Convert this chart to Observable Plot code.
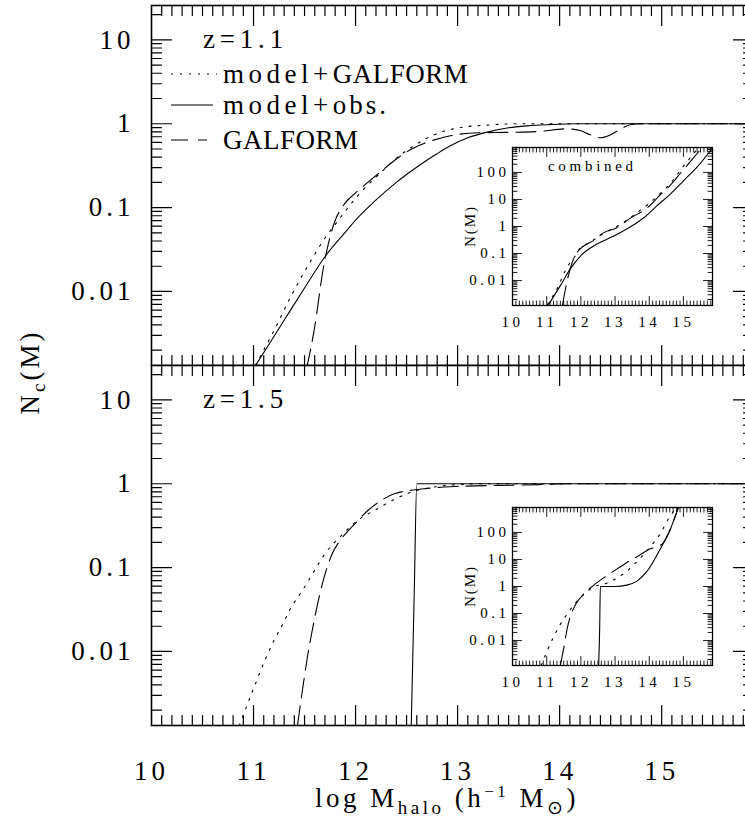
<!DOCTYPE html>
<html>
<head>
<meta charset="utf-8">
<script src="https://cdn.jsdelivr.net/npm/d3@7"></script>
<script src="https://cdn.jsdelivr.net/npm/@observablehq/plot@0.6"></script>
<style>
html,body{margin:0;padding:0;background:#fff;}
#chart{position:relative;width:745px;height:829px;background:#fff;overflow:hidden;}
</style>
</head>
<body>
<div id="chart"></div>
<script>
// ---------------- tick values ----------------
const xMajor = [10, 11, 12, 13, 14, 15];
const yMajorMain = [0.01, 0.1, 1, 10];
const yMajorInset = [0.01, 0.1, 1, 10, 100];

// ---------------- z = 1.1 : N_c(M) ----------------
const z11_m_modelGalform = [11.02, 11.2, 11.37, 11.55, 11.71, 11.8, 11.9, 12.02, 12.12, 12.25, 12.39, 12.55, 12.77, 13.0, 13.3, 13.6, 15.95];
const z11_n_modelGalform = [0.00132, 0.0034, 0.0089, 0.022, 0.045, 0.063, 0.091, 0.138, 0.186, 0.263, 0.38, 0.525, 0.74, 0.89, 0.966, 1, 1];
const z11_m_modelObs = [11.0, 11.2, 11.37, 11.5, 11.71, 11.9, 12.0, 12.19, 12.4, 12.55, 12.68, 12.8, 12.92, 13.1, 13.3, 13.5, 13.68, 13.9, 14.17, 15.95];
const z11_n_modelObs = [0.0012, 0.0029, 0.0062, 0.011, 0.027, 0.051, 0.071, 0.12, 0.2, 0.275, 0.355, 0.44, 0.54, 0.68, 0.8, 0.895, 0.944, 0.977, 1, 1];
const z11_m_galform = [11.52, 11.6, 11.68, 11.79, 11.89, 12.0, 12.12, 12.25, 12.4, 12.55, 12.75, 12.93, 13.2, 13.5, 13.8, 14.06, 14.2, 14.3, 14.4, 14.5, 14.6, 14.7, 14.8, 15.95];
const z11_n_galform = [0.0012, 0.0038, 0.0178, 0.065, 0.11, 0.15, 0.2, 0.27, 0.38, 0.5, 0.63, 0.72, 0.78, 0.79, 0.81, 0.87, 0.83, 0.74, 0.68, 0.74, 0.87, 0.98, 1, 1];

// ---------------- z = 1.1 : combined N(M) (inset) ----------------
const z11c_m_modelGalform = [11.02, 11.3, 11.6, 11.8, 11.98, 12.2, 12.37, 12.66, 13.05, 13.34, 13.64, 14.02, 14.31, 14.66, 14.95, 15.45];
const z11c_n_modelGalform = [0.0013, 0.0049, 0.032, 0.07, 0.16, 0.24, 0.32, 0.55, 1.0, 1.7, 3.2, 7.5, 16, 45, 140, 832];
const z11c_m_modelObs = [11.04, 11.4, 11.69, 11.98, 12.2, 12.37, 12.67, 13.05, 13.44, 13.84, 14.22, 14.61, 15.0, 15.43, 15.85];
const z11c_n_modelObs = [0.0012, 0.0065, 0.027, 0.079, 0.138, 0.19, 0.3, 0.51, 0.95, 2.1, 5.75, 15.5, 49, 174, 800];
const z11c_m_galform = [11.46, 11.55, 11.68, 11.8, 11.98, 12.2, 12.37, 12.66, 13.05, 13.44, 14.0, 14.3, 14.6, 14.9, 15.2, 15.55];
const z11c_n_galform = [0.0012, 0.005, 0.025, 0.07, 0.15, 0.23, 0.3, 0.58, 0.9, 2.0, 5.6, 14, 32, 89, 250, 832];

// ---------------- z = 1.5 : N_c(M) ----------------
const z15_m_modelGalform = [10.86, 11.0, 11.12, 11.2, 11.28, 11.36, 11.49, 11.59, 11.69, 11.77, 11.86, 12.0, 12.21, 12.38, 12.54, 12.74, 13.03, 13.3, 15.95];
const z15_n_modelGalform = [0.0013, 0.0036, 0.0083, 0.0135, 0.0204, 0.032, 0.056, 0.089, 0.14, 0.186, 0.24, 0.35, 0.5, 0.65, 0.79, 0.9, 0.98, 1, 1];
const z15_m_modelObs = [12.545, 12.575, 12.6, 15.95];
const z15_n_modelObs = [0.0012, 0.05, 1, 1];
const z15_m_galform = [11.43, 11.48, 11.53, 11.58, 11.63, 11.68, 11.72, 11.77, 11.86, 11.91, 12.02, 12.12, 12.25, 12.38, 12.67, 12.84, 13.0, 13.4, 13.8, 14.1, 15.95];
const z15_n_galform = [0.0013, 0.0035, 0.0089, 0.019, 0.038, 0.068, 0.1, 0.145, 0.22, 0.26, 0.36, 0.48, 0.63, 0.76, 0.87, 0.91, 0.93, 0.955, 0.977, 1, 1];

// ---------------- z = 1.5 : combined N(M) (inset) ----------------
const z15c_m_modelGalform = [10.84, 11.0, 11.2, 11.36, 11.59, 11.86, 12.0, 12.37, 12.76, 13.06, 13.35, 13.59, 13.83, 14.08, 14.32, 14.56, 14.8];
const z15c_n_modelGalform = [0.0012, 0.0038, 0.0135, 0.033, 0.092, 0.26, 0.4, 0.95, 1.33, 2.1, 3.7, 7.2, 15, 35, 89, 316, 832];
const z15c_m_modelObs = [12.52, 12.55, 12.57, 13.0, 13.34, 13.64, 13.93, 14.23, 14.35, 14.42, 14.61, 14.85];
const z15c_n_modelObs = [0.0012, 0.03, 1, 1.0, 1.12, 1.58, 3.6, 14.8, 28, 42, 126, 832];
const z15c_m_galform = [11.4, 11.5, 11.6, 11.85, 12.0, 12.37, 12.76, 13.1, 13.4, 13.7, 14.0, 14.3, 14.42, 14.61, 14.85];
const z15c_n_galform = [0.0012, 0.0054, 0.028, 0.22, 0.4, 1.1, 2.5, 4.8, 8.5, 14, 24, 32, 42, 126, 832];

// ---------------- drawing ----------------
const FONT = '"Liberation Serif", "Times New Roman", serif';
const DOT = "2,7";
const DASH = "20,8";
const chart = document.getElementById("chart");

const xMinor = d3.range(101, 160).map(i => i / 10).filter(v => Math.abs(v - Math.round(v)) > 1e-9);
function logMinor(e0, e1, lo, hi) {
  const out = [];
  for (let e = e0; e <= e1; e++) for (let j = 2; j <= 9; j++) {
    const v = j * Math.pow(10, e);
    if (v > lo && v < hi) out.push(v);
  }
  return out;
}
const xDomMain = [10, 15.9];
const yDomMain = [0.00131, 25.7];
const xDomInset = [10, 15.85];
const yDomInset = [0.0012, 832];
const yMinorMain = logMinor(-3, 1, yDomMain[0], yDomMain[1]);
const yMinorInset = logMinor(-3, 2, yDomInset[0], yDomInset[1]);

function rows(ms, ns) { return ms.map((m, i) => ({m, n: ns[i]})); }

// inward tick marks on all four sides: two-point segments in scale units
function tickSegments(xDom, yDom, fw, fh, yMaj, yMin, lMaj, lMin) {
  const ppu = fw / (xDom[1] - xDom[0]);
  const ppd = fh / Math.log10(yDom[1] / yDom[0]);
  const out = [];
  let k = 0;
  for (const [vals, L] of [[xMinor, lMin], [xMajor, lMaj]]) {
    const f = Math.pow(10, L / ppd);
    for (const v of vals) {
      if (!(v > xDom[0] + 1e-6 && v < xDom[1] - 1e-6)) continue;
      out.push({k, x: v, y: yDom[0]}, {k, x: v, y: yDom[0] * f}); k++;
      out.push({k, x: v, y: yDom[1]}, {k, x: v, y: yDom[1] / f}); k++;
    }
  }
  for (const [vals, L] of [[yMin, lMin], [yMaj, lMaj]]) {
    const d = L / ppu;
    for (const v of vals) {
      out.push({k, x: xDom[0], y: v}, {k, x: xDom[0] + d, y: v}); k++;
      out.push({k, x: xDom[1], y: v}, {k, x: xDom[1] - d, y: v}); k++;
    }
  }
  return out;
}

function lineMarks(list) {
  return list.map(([ms, ns, dash]) =>
    Plot.line(rows(ms, ns), {x: "m", y: "n", stroke: "black", strokeWidth: 1.1,
      strokeDasharray: dash, clip: true, curve: "monotone-x"}));
}

function place(el, left, top) {
  el.style.position = "absolute";
  el.style.left = left + "px";
  el.style.top = top + "px";
  chart.appendChild(el);
}

// the right edge of the frame lies just beyond the visible picture
const MAIN_W = 754;
function mainPanel(lines, showX) {
  const mb = showX ? 100 : 1;
  const fw = MAIN_W - 151 - 1;
  return Plot.plot({
    width: MAIN_W, height: 1 + 360 + mb,
    marginLeft: 151, marginRight: 1, marginTop: 1, marginBottom: mb,
    style: {background: "transparent", fontFamily: FONT, fontSize: "27px", letterSpacing: "4px", color: "black", maxWidth: "none"},
    x: {domain: xDomMain, axis: showX ? "bottom" : null, ticks: xMajor, tickSize: 0, tickPadding: 35, tickFormat: d => String(d), label: null},
    y: {type: "log", domain: yDomMain, ticks: yMajorMain, tickSize: 0, tickPadding: 17, tickFormat: d => String(d), label: null},
    marks: [
      Plot.line(tickSegments(xDomMain, yDomMain, fw, 360, yMajorMain, yMinorMain, 20, 10),
        {x: "x", y: "y", z: "k", stroke: "black", strokeWidth: 1.2}),
      ...lineMarks(lines),
      Plot.frame({stroke: "black", strokeWidth: 1.6})
    ]
  });
}

function insetPanel(lines) {
  return Plot.plot({
    width: 60 + 200 + 2, height: 2 + 158 + 30,
    marginLeft: 60, marginRight: 2, marginTop: 2, marginBottom: 30,
    style: {background: "transparent", fontFamily: FONT, fontSize: "15px", letterSpacing: "3.5px", color: "black", maxWidth: "none"},
    x: {domain: xDomInset, ticks: xMajor, tickSize: 0, tickPadding: 11, tickFormat: d => String(d), label: null},
    y: {type: "log", domain: yDomInset, ticks: yMajorInset, tickSize: 0, tickPadding: 3, tickFormat: d => String(d), label: null},
    marks: [
      Plot.frame({fill: "white"}),
      Plot.line(tickSegments(xDomInset, yDomInset, 200, 158, yMajorInset, yMinorInset, 9, 4.5),
        {x: "x", y: "y", z: "k", stroke: "black", strokeWidth: 0.9}),
      ...lineMarks(lines),
      Plot.frame({stroke: "black", strokeWidth: 1.3})
    ]
  });
}

place(mainPanel([
  [z11_m_modelGalform, z11_n_modelGalform, DOT],
  [z11_m_modelObs, z11_n_modelObs, null],
  [z11_m_galform, z11_n_galform, DASH]
], false), 0, 4);

place(mainPanel([
  [z15_m_modelGalform, z15_n_modelGalform, DOT],
  [z15_m_modelObs, z15_n_modelObs, null],
  [z15_m_galform, z15_n_galform, DASH]
], true), 0, 364);

place(insetPanel([
  [z11c_m_modelGalform, z11c_n_modelGalform, DOT],
  [z11c_m_modelObs, z11c_n_modelObs, null],
  [z11c_m_galform, z11c_n_galform, DASH]
]), 452, 145);

place(insetPanel([
  [z15c_m_modelGalform, z15c_n_modelGalform, DOT],
  [z15c_m_modelObs, z15c_n_modelObs, null],
  [z15c_m_galform, z15c_n_galform, DASH]
]), 452, 505);

// ---------------- labels, legend ----------------
const ov = d3.create("svg").attr("width", 745).attr("height", 829)
  .attr("font-family", FONT).attr("fill", "black")
  .style("white-space", "pre").style("pointer-events", "none");

ov.append("text").attr("x", 203).attr("y", 48).attr("font-size", 27).attr("letter-spacing", 4.8).text("z=1.1");
ov.append("text").attr("x", 203).attr("y", 408).attr("font-size", 27).attr("letter-spacing", 4.8).text("z=1.5");

// legend swatches
ov.append("line").attr("x1", 171).attr("x2", 217).attr("y1", 74).attr("y2", 74)
  .attr("stroke", "black").attr("stroke-width", 1.1).attr("stroke-dasharray", DOT);
ov.append("line").attr("x1", 171).attr("x2", 213).attr("y1", 105).attr("y2", 105)
  .attr("stroke", "black").attr("stroke-width", 1.1);
ov.append("line").attr("x1", 171).attr("x2", 217).attr("y1", 140).attr("y2", 140)
  .attr("stroke", "black").attr("stroke-width", 1.1).attr("stroke-dasharray", "17,10,9,60");

const l1 = ov.append("text").attr("x", 223).attr("y", 83).attr("font-size", 27);
l1.append("tspan").attr("letter-spacing", 4.5).text("model+");
l1.append("tspan").attr("letter-spacing", 0.5).text("GALFORM");
const l2 = ov.append("text").attr("x", 223).attr("y", 114).attr("font-size", 27);
l2.append("tspan").attr("letter-spacing", 4.5).text("model+");
l2.append("tspan").attr("letter-spacing", 3).text("obs.");
ov.append("text").attr("x", 223).attr("y", 149).attr("font-size", 27).attr("letter-spacing", 0.5).text("GALFORM");

// inset labels
ov.append("text").attr("x", 548).attr("y", 171).attr("font-size", 15).attr("letter-spacing", 3.7).text("combined");
for (const cy of [226, 586]) {
  ov.append("text").attr("transform", `translate(475,${cy}) rotate(-90)`).attr("text-anchor", "middle")
    .attr("font-size", 15).attr("letter-spacing", 2).text("N(M)");
}

// y title
const yt = ov.append("text").attr("transform", "translate(39,372) rotate(-90)").attr("text-anchor", "middle")
  .attr("font-size", 27).attr("letter-spacing", 3);
yt.append("tspan").text("N");
yt.append("tspan").attr("font-size", 19).attr("dy", 6).text("c");
yt.append("tspan").attr("dy", -6).text("(M)");

// x title
const xt = ov.append("text").attr("x", 447).attr("y", 807).attr("text-anchor", "middle")
  .attr("font-size", 27).attr("letter-spacing", 3.5);
xt.append("tspan").text("log M");
xt.append("tspan").attr("font-size", 19).attr("dy", 7).text("halo");
xt.append("tspan").attr("dy", -7).text(" (h");
xt.append("tspan").attr("font-size", 17).attr("dy", -10).text("\u22121");
xt.append("tspan").attr("dy", 10).text(" M");
xt.append("tspan").attr("font-size", 19).attr("dy", 7).text("\u2299");
xt.append("tspan").attr("dy", -7).text(")");

place(ov.node(), 0, 0);
</script>
</body>
</html>
